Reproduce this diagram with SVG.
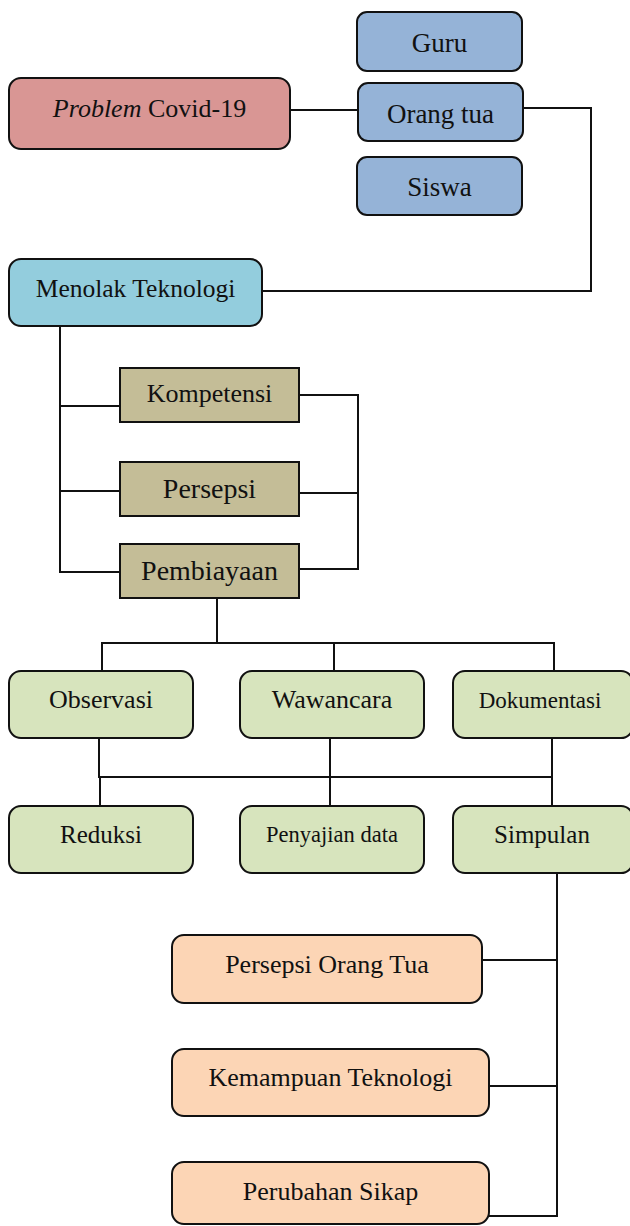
<svg xmlns="http://www.w3.org/2000/svg" width="630" height="1226" viewBox="0 0 630 1226">
<style>
text{font-family:"Liberation Serif","Times New Roman",serif;fill:#111;text-anchor:middle}
.n{stroke:#111;stroke-width:2}
.red{fill:#D99694}.blue{fill:#95B3D7}.cyan{fill:#93CDDD}.tan{fill:#C4BD97}.green{fill:#D7E4BD}.orange{fill:#FCD5B5}
#connectors path{fill:none;stroke:#111;stroke-width:2}
</style>
<rect width="630" height="1226" fill="#fff"/>
<g id="connectors">
<path d="M290 110H358"/>
<path d="M523 108H591V291H262"/>
<path d="M60 326V572H120M60 406H120M60 491H120"/>
<path d="M299 395H358V569H299M299 493H358"/>
<path d="M217 598V643M102 671V643H554V671M334 643V671"/>
<path d="M99 738V777H552M330 738V806M552 738V806M100 777V806"/>
<path d="M557 873V1216H489M482 960H557M489 1086H557"/>
</g>
<g id="guru"><rect class="n blue" x="357" y="12" width="165" height="59" rx="10"/><text x="439.5" y="52" font-size="27">Guru</text></g>
<g id="orangtua"><rect class="n blue" x="358" y="83" width="165" height="58" rx="10"/><text x="440.5" y="123" font-size="27">Orang tua</text></g>
<g id="siswa"><rect class="n blue" x="357" y="157" width="165" height="58" rx="10"/><text x="439.5" y="196" font-size="27">Siswa</text></g>
<g id="problem"><rect class="n red" x="9" y="78" width="281" height="71" rx="12"/><text x="149.5" y="117" font-size="26"><tspan font-style="italic">Problem</tspan> Covid-19</text></g>
<g id="menolak"><rect class="n cyan" x="9" y="259" width="253" height="67" rx="12"/><text x="135.5" y="297" font-size="25.5">Menolak Teknologi</text></g>
<g id="kompetensi"><rect class="n tan" x="120" y="368" width="179" height="54"/><text x="209.5" y="402" font-size="26">Kompetensi</text></g>
<g id="persepsi"><rect class="n tan" x="120" y="462" width="179" height="54"/><text x="209.5" y="498" font-size="28">Persepsi</text></g>
<g id="pembiayaan"><rect class="n tan" x="120" y="544" width="179" height="54"/><text x="209.5" y="580" font-size="28">Pembiayaan</text></g>
<g id="observasi"><rect class="n green" x="9" y="671" width="184" height="67" rx="12"/><text x="101" y="708" font-size="26">Observasi</text></g>
<g id="wawancara"><rect class="n green" x="240" y="671" width="184" height="67" rx="12"/><text x="332" y="708" font-size="26">Wawancara</text></g>
<g id="dokumentasi"><rect class="n green" x="453" y="671" width="180" height="67" rx="12"/><text x="540" y="708" font-size="23">Dokumentasi</text></g>
<g id="reduksi"><rect class="n green" x="9" y="806" width="184" height="67" rx="12"/><text x="101" y="843" font-size="25">Reduksi</text></g>
<g id="penyajian"><rect class="n green" x="240" y="806" width="184" height="67" rx="12"/><text x="332" y="842" font-size="22.5">Penyajian data</text></g>
<g id="simpulan"><rect class="n green" x="453" y="806" width="180" height="67" rx="12"/><text x="542" y="843" font-size="25">Simpulan</text></g>
<g id="persepsiorangtua"><rect class="n orange" x="172" y="935" width="310" height="68" rx="12"/><text x="327" y="973" font-size="26">Persepsi Orang Tua</text></g>
<g id="kemampuan"><rect class="n orange" x="172" y="1049" width="317" height="67" rx="12"/><text x="330.5" y="1086" font-size="26">Kemampuan Teknologi</text></g>
<g id="perubahan"><rect class="n orange" x="172" y="1162" width="317" height="62" rx="12"/><text x="330.5" y="1200" font-size="26">Perubahan Sikap</text></g>
</svg>
